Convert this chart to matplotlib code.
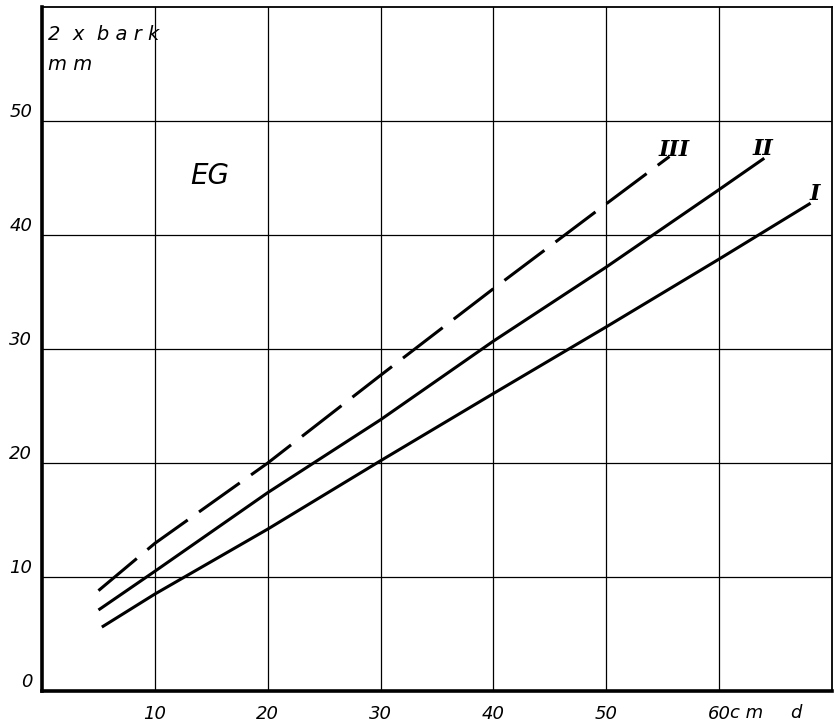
import matplotlib
matplotlib.use("Agg")
import matplotlib.pyplot as plt

# bark thickness (2 x bark, mm) over diameter d (cm)
d_I = [5.3, 10, 20, 30, 40, 50, 60, 68.1]
bark_I = [5.6, 8.5, 14.2, 20.2, 26.1, 31.95, 37.9, 42.8]

d_II = [5.0, 10, 20, 30, 40, 50, 60, 64.0]
bark_II = [7.1, 10.5, 17.4, 23.8, 30.7, 37.2, 44.0, 46.75]

d_III = [5.0, 10, 20, 30, 40, 50, 55.6]
bark_III = [8.8, 12.95, 20.0, 27.7, 35.3, 42.75, 46.9]

x_ticks = [10, 20, 30, 40, 50, 60]
y_ticks = [0, 10, 20, 30, 40, 50]

plt.rcParams['lines.scale_dashes'] = False
fig = plt.figure(figsize=(8.34, 7.23), dpi=100)
ax = fig.add_axes([0.0504, 0.0444, 0.9472, 0.9456])
ax.set_xlim(0, 70)
ax.set_ylim(0, 60)

ax.grid(True, color="black", lw=0.9)
ax.set_axisbelow(True)

ax.plot(d_I, bark_I, color="black", lw=2.2, solid_capstyle="butt")
ax.plot(d_II, bark_II, color="black", lw=2.2, solid_capstyle="butt")
ax.plot(d_III, bark_III, color="black", lw=2.2, dashes=(36, 10))

# curve labels
rom = dict(fontsize=16, style="italic", weight="bold", family="DejaVu Serif",
           ha="center", va="center")
ax.text(56.0, 47.5, "III", **rom)
ax.text(63.9, 47.6, "II", **rom)
ax.text(68.5, 43.6, "I", **rom)

ax.text(13.1, 45.2, "EG", fontsize=20, style="italic", ha="left", va="center")
ax.text(0.5, 57.6, "2  x  b a r k", fontsize=14, style="italic", ha="left", va="center")
ax.text(0.5, 55.0, "m m", fontsize=14, style="italic", ha="left", va="center")

ax.set_xticks(x_ticks)
ax.set_xticklabels([str(v) for v in x_ticks], fontsize=13, style="italic")
ax.set_yticks(y_ticks)
ax.set_yticklabels([str(v) for v in y_ticks], fontsize=13, style="italic")
for lab in ax.get_yticklabels():
    lab.set_va("bottom")
ax.tick_params(axis="both", length=0)
ax.tick_params(axis="x", pad=10)
ax.tick_params(axis="y", pad=7)

tr = ax.get_xaxis_transform()
ax.text(61.0, -0.032, "c m", fontsize=13, style="italic", ha="left", va="center", transform=tr)
ax.text(66.3, -0.032, "d", fontsize=13, style="italic", ha="left", va="center", transform=tr)

for side in ("left", "bottom"):
    ax.spines[side].set_linewidth(2.6)
for side in ("top", "right"):
    ax.spines[side].set_linewidth(1.3)

fig.savefig("out.png", dpi=100)
